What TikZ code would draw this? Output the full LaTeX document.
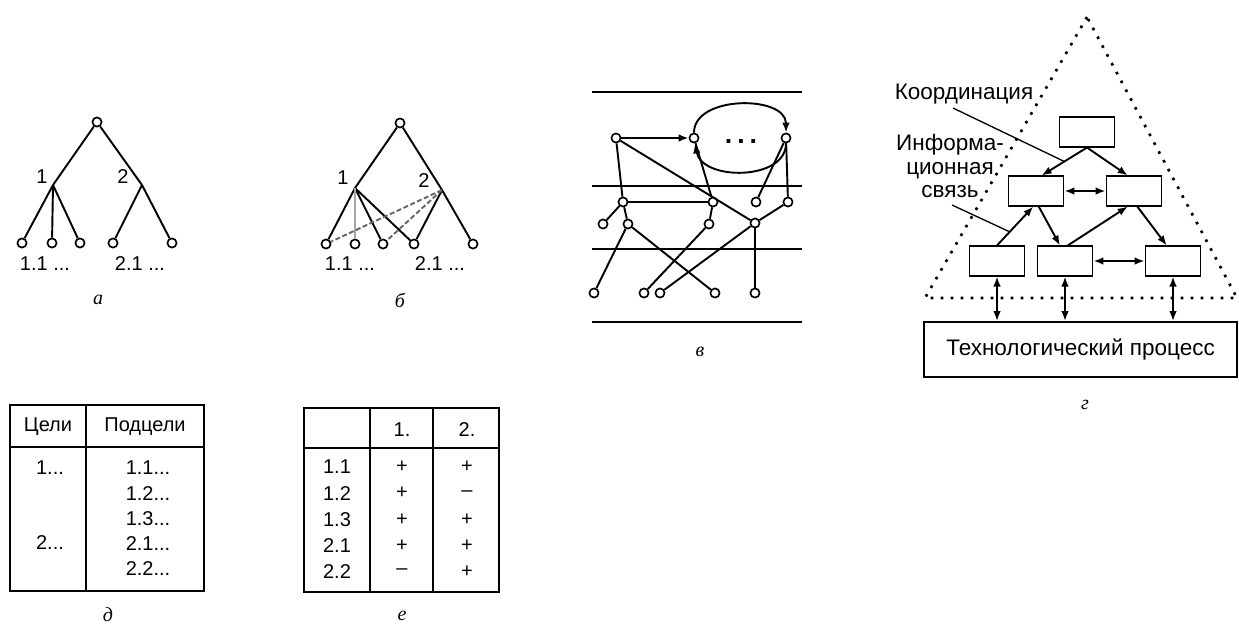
\documentclass[tikz,border=0pt]{standalone}
\usepackage{fontspec}
\setmainfont{Liberation Sans}
\newfontfamily\capfont{Liberation Serif}
\usetikzlibrary{arrows.meta}
\begin{document}
\begin{tikzpicture}[x=0.6pt,y=-0.6pt,line width=1.15pt,>={Latex[length=6pt,width=4.6pt]},
  v/.style={circle,draw,line width=1pt,fill=white,inner sep=0pt,minimum size=5.5pt},
  num/.style={font=\fontsize{12}{12}\selectfont},
  tab/.style={font=\fontsize{12}{12}\selectfont},
  lab/.style={font=\fontsize{13.5}{14}\selectfont},
  plabel/.style={font=\capfont\itshape\fontsize{12}{12}\selectfont},
  bx/.style={draw,fill=white,minimum width=33pt,minimum height=17.5pt,inner sep=0pt},
  dotline/.style={line width=1.6pt,dash pattern=on 1.6pt off 4.4pt},
  ptr/.style={line width=0.8pt}]
\useasboundingbox (0,0) rectangle (1239,628);
\node[v](ar) at (97,122){};
\coordinate (a1) at (53,185);
\coordinate (a2) at (142,185);
\foreach \x [count=\i] in {22,52,80,113,172}
  \node[v](al\i) at (\x,243){};
\draw(ar)--(a1) (ar)--(a2);
\foreach \i in {1,2,3} \draw(a1)--(al\i);
\foreach \i in {4,5} \draw(a2)--(al\i);
\node[num] at (42,177){1};
\node[num] at (123,177){2};
\node[num] at (45,264){1.1 ...};
\node[num] at (140,264){2.1 ...};
\node[plabel] at (98,300){а};
\node[v](br) at (400,123){};
\coordinate (b1) at (355,188);
\coordinate (b2) at (442,190);
\foreach \x [count=\i] in {326,355,383,414,473}
  \node[v](bl\i) at (\x,244){};
\draw(br)--(b1) (br)--(b2)--(bl5) (b1)--(bl1) (b1)--(bl3) (b1)--(bl4) (b2)--(bl4);
\draw[gray!70](b1)--(bl2);
\draw[dash pattern=on 3pt off 1.5pt,gray!80!black](b2)--(bl1) (b2)--(bl3);
\node[num] at (343,178){1};
\node[num] at (424,181){2};
\node[num] at (350,264){1.1 ...};
\node[num] at (440,264){2.1 ...};
\node[plabel] at (400,300){б};
\foreach \y in {92,186,249,322} \draw(592,\y)--(802,\y);
\foreach \n/\x/\y in {A/616/138,B/694/138,C/786/138,D/623/202,E/713/202,F/756/202,G/788/202,H/603/224,I/628/224,J/709/224,K/755/223,L/594/293,M/644/293,N/660/293,O/715/293,P/755/293}
  \node[v](v\n) at (\x,\y){};
\foreach \s/\t in {A/D,A/K,B/E,C/F,C/G,D/E,D/H,D/I,E/J,G/K,I/L,I/O,J/M,K/N,K/P}
  \draw(v\s)--(v\t);
\draw[->](vA)--(vB);
\draw[->](vB) .. controls (694,95) and (786,95) .. (vC);
\draw[->](vC) .. controls (786,181) and (702,181) .. (vB);
\node[font=\bfseries\fontsize{16}{16}\selectfont,anchor=base] at (741,143){.\hspace{3pt}.\hspace{3pt}.};
\node[plabel] at (700,352){в};
\draw[dotline](1087,17)--(925,298)--(1237,298)--cycle;
\node[bx](t) at (1087,132){};
\node[bx](m1) at (1036,191){};
\node[bx](m2) at (1134,191){};
\node[bx](d1) at (997,261){};
\node[bx](d2) at (1065,261){};
\node[bx](d3) at (1173,261){};
\node[draw,minimum width=187.5pt,minimum height=33pt,font=\fontsize{13.5}{14}\selectfont](tp) at (1080.5,349.5){Технологический процесс};
\draw[->](t.south)--(m1.70);
\draw[->](t.south)--(m2.112);
\draw[<->](m1.east)--(m2.west);
\draw[->](d1.north)--(m1.-100);
\draw[->](m1.-80)--(d2.108);
\draw[->](d2.80)--(m2.-112);
\draw[->](m2.-78)--(d3.112);
\draw[<->](d2.east)--(d3.west);
\foreach \b in {d1,d2,d3} \draw[<->](\b.south)--(\b.south |- tp.north);
\node[lab](kl) at (964,94){Координация};
\path(t.south)--(m1.70) coordinate[pos=0.5](kp);
\coordinate (ks) at (953,108);
\draw[ptr](ks)--(kp);
\node[lab,align=center](il) at (950,166){Информа-\\ционная\\связь};
\path(d1.north)--(m1.-100) coordinate[pos=0.35](ip);
\coordinate (is) at (952,205);
\draw[ptr](is)--(ip);
\node[plabel] at (1085,405){г};
\draw(10,405) rectangle (204,591) (86,405)--(86,591) (10,447)--(204,447);
\node[tab] at (48,427){Цели};
\node[tab] at (145,427){Подцели};
\node[tab] at (50,468){1...};
\node[tab] at (50,543){2...};
\foreach \a/\b [count=\i] in {1/1,1/2,1/3,2/1,2/2}
  \node[tab] at (148,442.5+25.3*\i){\a.\b...};
\node[plabel] at (108,615){д};
\draw(304,408) rectangle (499,592) (370,408)--(370,592) (433,408)--(433,592) (304,448)--(499,448);
\node[tab] at (402,430){1.};
\node[tab] at (467,430){2.};
\foreach \r/\p/\q [count=\i] in {1.1/+/+,1.2/+/–,1.3/+/+,2.1/+/+,2.2/–/+}
  {\node[tab] at (337,440.8+26.2*\i){\r};
   \node[tab] at (402,440.8+26.2*\i){\p};
   \node[tab] at (467,440.8+26.2*\i){\q};}
\node[plabel] at (402,616){е};
\end{tikzpicture}
\end{document}
